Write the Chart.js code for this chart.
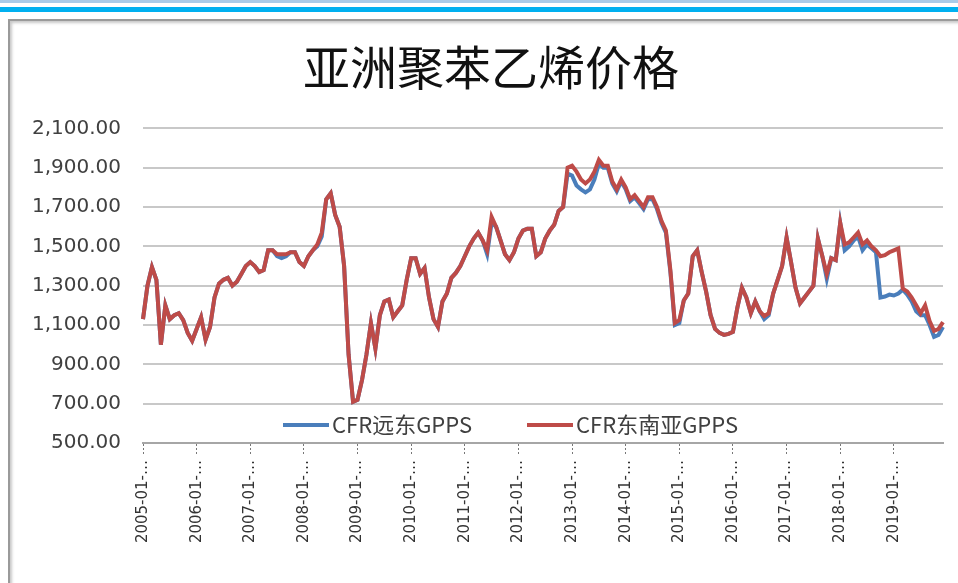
<!DOCTYPE html>
<html>
<head>
<meta charset="utf-8">
<script src="https://cdn.jsdelivr.net/npm/chart.js@4.4.1/dist/chart.umd.min.js"></script>
<style>
  html, body { margin: 0; padding: 0; background: #fff; overflow: hidden; }
  body { width: 958px; height: 583px; position: relative; }
  .bar1 { position: absolute; left: 0; top: 0; width: 958px; height: 3px; background: #a9cbe8; }
  .bar2 { position: absolute; left: 0; top: 7px; width: 958px; height: 5px; background: #00b0f0; }
  .frame { position: absolute; left: 8px; top: 19px; width: 990px; height: 620px; border: 2px solid #9a9a9a; box-shadow: 2px 2px 3px #c8c8c8 inset; background: #fff; }
  #wrap { position: absolute; left: 0; top: 0; width: 980px; height: 583px; }
</style>
</head>
<body>
<div class="bar1"></div>
<div class="bar2"></div>
<div class="frame"></div>
<div id="wrap"><canvas id="ppsChart"></canvas></div>
<script>
// 月度数据 2005-01 ~ 2019-12
var years = [2005, 2006, 2007, 2008, 2009, 2010, 2011, 2012, 2013, 2014, 2015, 2016, 2017, 2018, 2019];
var months = [];
years.forEach(function (y) {
    for (var m = 1; m <= 12; m++) months.push(y + '-' + (m < 10 ? '0' + m : m));
});

var farEast = [
    1130, 1300, 1395, 1330, 1000, 1200, 1130, 1150, 1160, 1125, 1060, 1020,
    1080, 1140, 1025, 1090, 1240, 1310, 1330, 1340, 1300, 1320, 1360, 1400,
    1420, 1400, 1370, 1380, 1480, 1480, 1450, 1440, 1450, 1470, 1470, 1420,
    1400, 1450, 1480, 1500, 1550, 1740, 1770, 1660, 1600, 1400, 950, 710,
    720, 820, 950, 1110, 980, 1150, 1220, 1230, 1140, 1170, 1200, 1330,
    1440, 1440, 1360, 1390, 1240, 1130, 1090, 1220, 1260, 1340, 1365, 1400,
    1450, 1500, 1540, 1570, 1530, 1460, 1620, 1600, 1530, 1460, 1430, 1470,
    1540, 1580, 1590, 1590, 1450, 1470, 1540, 1580, 1610, 1680, 1700, 1870,
    1860, 1810, 1790, 1775, 1790, 1840, 1920, 1900, 1900, 1820, 1780, 1830,
    1790, 1730, 1750, 1720, 1690, 1740, 1740, 1690, 1620, 1570, 1370, 1100,
    1110, 1225, 1260, 1450, 1480, 1370, 1270, 1150, 1080, 1060, 1050, 1055,
    1065, 1190, 1290, 1240, 1160, 1220, 1170, 1130, 1150, 1260, 1330, 1400,
    1545, 1420, 1290, 1210, 1240, 1270, 1300, 1540, 1450, 1335, 1440, 1430,
    1620, 1480, 1500, 1530, 1550, 1480, 1510, 1490, 1470, 1240, 1245, 1255,
    1250, 1260, 1280, 1255, 1220, 1170, 1150, 1150, 1100, 1040, 1050, 1090
];
var southeastAsia = [
    1130, 1300, 1395, 1330, 1000, 1200, 1130, 1150, 1160, 1125, 1060, 1020,
    1080, 1140, 1025, 1090, 1240, 1310, 1330, 1340, 1300, 1320, 1360, 1400,
    1420, 1400, 1370, 1380, 1480, 1480, 1460, 1460, 1460, 1470, 1470, 1420,
    1400, 1450, 1480, 1510, 1570, 1740, 1770, 1660, 1600, 1400, 950, 710,
    720, 820, 950, 1110, 980, 1150, 1220, 1230, 1140, 1170, 1200, 1330,
    1440, 1440, 1360, 1390, 1240, 1130, 1090, 1220, 1260, 1340, 1365, 1400,
    1450, 1500, 1540, 1570, 1530, 1480, 1650, 1600, 1530, 1460, 1430, 1470,
    1540, 1580, 1590, 1590, 1450, 1470, 1540, 1580, 1610, 1680, 1700, 1900,
    1910, 1880, 1840, 1820, 1840, 1880, 1940, 1910, 1910, 1830, 1790, 1840,
    1800, 1740, 1760, 1730, 1700, 1750, 1750, 1700, 1630, 1580, 1380, 1110,
    1125, 1225, 1260, 1450, 1480, 1370, 1270, 1150, 1080, 1060, 1050, 1055,
    1065, 1190, 1290, 1240, 1160, 1220, 1170, 1145, 1160, 1260, 1330, 1400,
    1545, 1420, 1290, 1210, 1240, 1270, 1300, 1540, 1450, 1360, 1440, 1430,
    1620, 1510, 1520, 1545, 1570, 1510, 1530, 1500, 1480, 1450, 1455, 1470,
    1480, 1490, 1285, 1270, 1240, 1200, 1160, 1200, 1120, 1070, 1080, 1115
];
var seriesNames = ['CFR远东GPPS', 'CFR东南亚GPPS'];
var seriesColors = ['#4a7ebb', '#be4b48'];
var yTicks = [500, 700, 900, 1100, 1300, 1500, 1700, 1900, 2100];

// 图例画在绘图区内部底部
var legendX = [283, 527];
var insideLegend = {
    id: 'insideLegend',
    afterDraw: function (chart) {
        var ctx = chart.ctx;
        var y = chart.chartArea.bottom - 18;
        ctx.save();
        ctx.font = '22px "Noto Sans CJK SC"';
        ctx.textBaseline = 'middle';
        chart.data.datasets.forEach(function (ds, i) {
            var x = legendX[i];
            ctx.strokeStyle = ds.borderColor;
            ctx.lineWidth = 4;
            ctx.beginPath();
            ctx.moveTo(x, y);
            ctx.lineTo(x + 46, y);
            ctx.stroke();
            ctx.fillStyle = '#404040';
            ctx.fillText(ds.label, x + 49, y);
        });
        ctx.restore();
    }
};

var ctx = document.getElementById('ppsChart').getContext('2d');
var ppsChart = new Chart(ctx, {
    type: 'line',
    data: {
        labels: months,
        datasets: [{
            label: seriesNames[0],
            data: farEast,
            borderColor: seriesColors[0],
            backgroundColor: seriesColors[0],
            borderWidth: 4,
            pointRadius: 0,
            order: 1
        }, {
            label: seriesNames[1],
            data: southeastAsia,
            borderColor: seriesColors[1],
            backgroundColor: seriesColors[1],
            borderWidth: 4,
            pointRadius: 0,
            order: 0
        }]
    },
    options: {
        responsive: true,
        maintainAspectRatio: false,
        animation: false,
        layout: { padding: { left: 18, right: 16, top: 0, bottom: 0 } },
        plugins: {
            legend: { display: false },
            tooltip: { enabled: false },
            title: {
                display: true,
                text: '亚洲聚苯乙烯价格',
                color: '#111',
                font: { family: '"Noto Sans CJK SC"', size: 47, weight: 'normal' },
                padding: { top: 39, bottom: 33 }
            }
        },
        scales: {
            x: {
                offset: false,
                border: { display: true, color: '#a6a6a6', width: 2 },
                grid: {
                    drawOnChartArea: false,
                    drawTicks: true,
                    tickLength: 13,
                    tickBorderDash: [2, 2],
                    tickColor: '#777',
                    tickWidth: 1
                },
                afterFit: function (s) { s.height = 140; },
                ticks: {
                    autoSkip: false,
                    minRotation: 90,
                    maxRotation: 90,
                    padding: 4,
                    color: '#333',
                    font: { family: '"DejaVu Sans"', size: 15 },
                    callback: function (v, i) {
                        return i % 12 === 0 ? months[i] + '-…' : null;
                    }
                }
            },
            y: {
                min: 500,
                max: 2100,
                border: { display: false },
                grid: { color: '#c8c8c8', lineWidth: 2, drawTicks: false },
                afterFit: function (s) { s.width = 125; },
                afterBuildTicks: function (s) {
                    s.ticks = yTicks.map(function (v) { return { value: v }; });
                },
                ticks: {
                    padding: 22,
                    color: '#404040',
                    font: { family: '"DejaVu Sans"', size: 20 },
                    callback: function (v) {
                        return v.toLocaleString('en-US', { minimumFractionDigits: 2, maximumFractionDigits: 2 });
                    }
                }
            },
            // 右侧空白轴，只用来留出边距
            yPad: {
                position: 'right',
                min: 500,
                max: 2100,
                border: { display: false },
                grid: { display: false },
                ticks: { display: false },
                afterFit: function (s) { s.width = 21; }
            }
        }
    },
    plugins: [insideLegend]
});
</script>
</body>
</html>
